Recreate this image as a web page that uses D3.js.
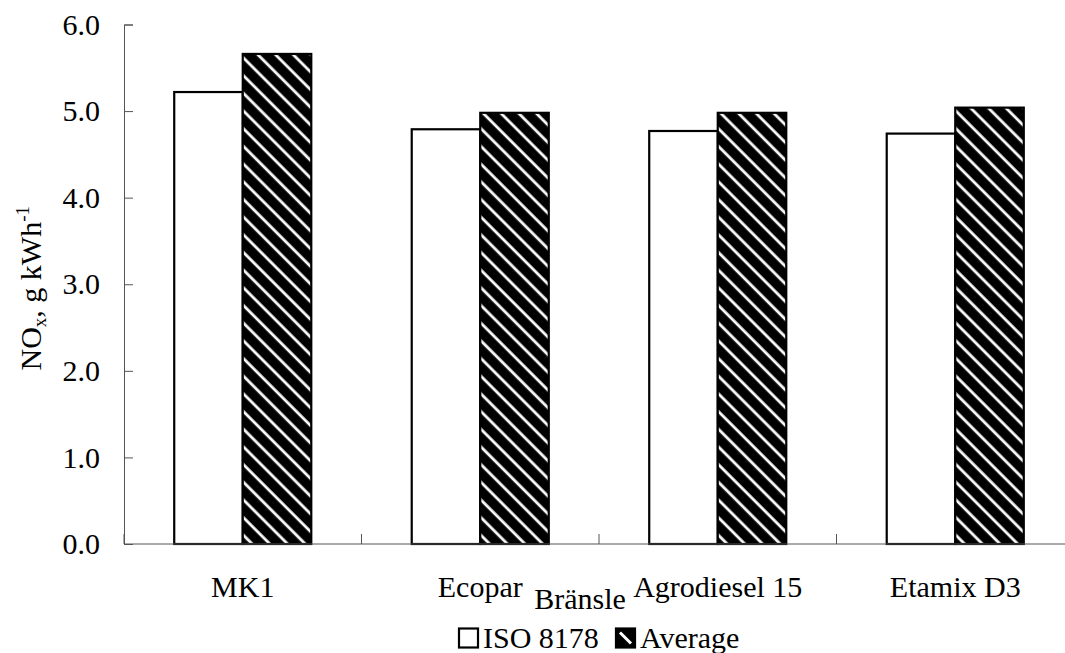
<!DOCTYPE html>
<html>
<head>
<meta charset="utf-8">
<script src="https://cdn.jsdelivr.net/npm/d3@7"></script>
<style>
  body { margin: 0; background: #fff; }
  text { font-family: "Liberation Serif", "Times New Roman", serif; fill: #000; }
</style>
</head>
<body>
<script>
// data
const CATEGORIES = ['MK1', 'Ecopar', 'Agrodiesel 15', 'Etamix D3'];
const SERIES = ['ISO 8178', 'Average'];
const ISO_VALUES = [5.22, 4.79, 4.77, 4.74];
const AVG_VALUES = [5.66, 4.98, 4.98, 5.04];
const Y_TICKS = [0, 1, 2, 3, 4, 5, 6];

const WIDTH = 1065, HEIGHT = 653;
const MARGIN = {top: 24.5, left: 124, bottom: 109, right: -9}; // plot runs a bit past the right edge
const FONT = 30;

const rows = CATEGORIES.map((c, i) => ({cat: c, vals: [ISO_VALUES[i], AVG_VALUES[i]]}));

const svg = d3.select('body').append('svg')
  .attr('width', WIDTH)
  .attr('height', HEIGHT);

// hatch fill for the "Average" bars
const defs = svg.append('defs');
const pat = defs.append('pattern')
  .attr('id', 'hatch')
  .attr('patternUnits', 'userSpaceOnUse')
  .attr('width', 12.5)
  .attr('height', 12.5)
  .attr('patternTransform', 'rotate(-45)');
pat.append('rect').attr('width', 12.5).attr('height', 12.5).attr('fill', '#000');
pat.append('line')
  .attr('x1', 6).attr('x2', 6).attr('y1', 0).attr('y2', 12.5)
  .attr('stroke', '#fff').attr('stroke-width', 2.8);

const x0 = d3.scaleBand()
  .domain(CATEGORIES)
  .range([MARGIN.left, WIDTH - MARGIN.right])
  .padding(0);

const x1 = d3.scaleBand()
  .domain(SERIES)
  .range([0, x0.bandwidth()])
  .paddingInner(0)
  .paddingOuter(0.733);

const y = d3.scaleLinear()
  .domain([0, 6])
  .range([HEIGHT - MARGIN.bottom, MARGIN.top]);

// y axis
const yAxis = svg.append('g')
  .attr('transform', `translate(${MARGIN.left},0)`)
  .call(d3.axisLeft(y).tickValues(Y_TICKS).tickFormat(d3.format('.1f')).tickSize(-9).tickPadding(24));
yAxis.select('.domain').attr('stroke', '#555');
yAxis.selectAll('.tick line').attr('stroke', '#555');
yAxis.selectAll('text')
  .style('font-size', FONT + 'px')
  .style('font-family', '"Liberation Serif", serif')
  .attr('fill', '#000');

// bars
const groups = svg.append('g').selectAll('g')
  .data(rows)
  .join('g')
  .attr('transform', d => `translate(${x0(d.cat)},0)`);

groups.selectAll('rect')
  .data(d => d.vals.map((v, i) => ({key: SERIES[i], v})))
  .join('rect')
  .attr('x', d => x1(d.key))
  .attr('y', d => y(d.v))
  .attr('width', x1.bandwidth())
  .attr('height', d => y(0) - y(d.v))
  .attr('fill', d => d.key === 'Average' ? 'url(#hatch)' : '#fff')
  .attr('stroke', '#000')
  .attr('stroke-width', 2.2);

// x axis line + category boundary ticks
svg.append('line')
  .attr('x1', MARGIN.left).attr('x2', WIDTH)
  .attr('y1', y(0)).attr('y2', y(0))
  .attr('stroke', '#555');

svg.append('g').selectAll('line')
  .data(CATEGORIES)
  .join('line')
  .attr('x1', d => x0(d)).attr('x2', d => x0(d))
  .attr('y1', y(0)).attr('y2', y(0) - 10)
  .attr('stroke', '#555');

// category labels
svg.append('g').selectAll('text')
  .data(CATEGORIES)
  .join('text')
  .attr('x', d => x0(d) + x0.bandwidth() / 2)
  .attr('y', 597)
  .attr('text-anchor', 'middle')
  .style('font-size', FONT + 'px')
  .text(d => d);

// axis titles
svg.append('text')
  .attr('x', 580)
  .attr('y', 609)
  .attr('text-anchor', 'middle')
  .style('font-size', FONT + 'px')
  .text('Bränsle');

const yTitle = svg.append('text')
  .attr('transform', `translate(41,${(y(0) + y(6)) / 2 + 4}) rotate(-90)`)
  .attr('text-anchor', 'middle')
  .style('font-size', FONT + 'px');
yTitle.append('tspan').text('NO');
yTitle.append('tspan').attr('dy', 5).style('font-size', '19px').text('x');
yTitle.append('tspan').attr('dy', -5).text(', g kWh');
yTitle.append('tspan').attr('dy', -12).style('font-size', '19px').text('-1');

// legend
const legend = svg.append('g');
const LEG_X = [459, 616];
const BOX = 19;
SERIES.forEach((s, i) => {
  const bx = LEG_X[i], by = 628.5;
  legend.append('rect')
    .attr('x', bx).attr('y', by)
    .attr('width', BOX).attr('height', BOX)
    .attr('fill', s === 'Average' ? '#000' : '#fff')
    .attr('stroke', '#000')
    .attr('stroke-width', 2.2);
  if (s === 'Average') {
    legend.append('line')
      .attr('x1', bx + 4).attr('y1', by + 4)
      .attr('x2', bx + BOX - 4).attr('y2', by + BOX - 4)
      .attr('stroke', '#fff')
      .attr('stroke-width', 3);
  }
  legend.append('text')
    .attr('x', bx + BOX + 5)
    .attr('y', 647.5)
    .style('font-size', FONT + 'px')
    .text(s);
});
</script>
</body>
</html>
